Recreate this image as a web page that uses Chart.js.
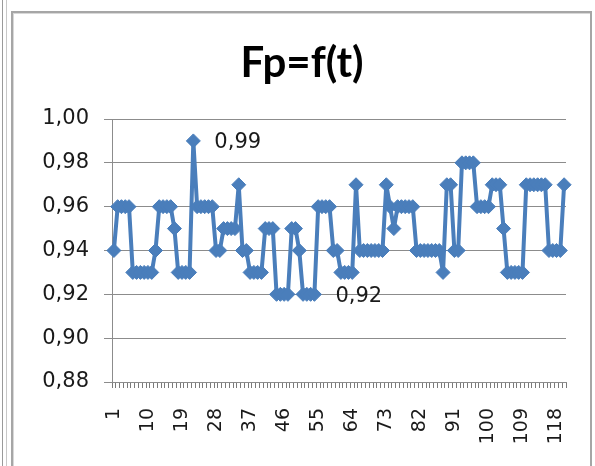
<!DOCTYPE html>
<html>
<head>
<meta charset="utf-8">
<script src="https://cdn.jsdelivr.net/npm/chart.js@4/dist/chart.umd.min.js"></script>
<style>
  html, body { margin: 0; padding: 0; background: #ffffff; }
  #wrap { position: relative; width: 595px; height: 466px; overflow: hidden; background: #ffffff; }
  .edge { position: absolute; top: 0; left: 2px; width: 3px; height: 466px;
          border-left: 1px solid #9a9a9a; border-right: 1px solid #c8c8c8; }
  .frame { position: absolute; left: 11px; top: 11px; width: 577px; height: 470px;
           border: 2px solid #a6a6a6; box-shadow: inset 1px 1px 0 #d8d8d8; }
  canvas { position: absolute; left: 0; top: 0; }
</style>
</head>
<body>
<div id="wrap">
  <div class="edge"></div>
  <div class="frame"></div>
  <canvas id="c" width="595" height="466"></canvas>
</div>
<script>
// Measurement index (1..120) along the time axis
const categories = Array.from({ length: 120 }, (_, i) => String(i + 1));

// Axis labels printed under the time axis
const shownTicks = ['1', '10', '19', '28', '37', '46', '55', '64', '73', '82', '91', '100', '109', '118'];

// Power factor readings Fp
const fp = [
  0.94,
  0.96, 0.96, 0.96, 0.96,
  0.93, 0.93, 0.93, 0.93, 0.93, 0.93,
  0.94,
  0.96, 0.96, 0.96, 0.96,
  0.95,
  0.93, 0.93, 0.93, 0.93,
  0.99,
  0.96, 0.96, 0.96, 0.96, 0.96,
  0.94, 0.94,
  0.95, 0.95, 0.95, 0.95,
  0.97,
  0.94, 0.94,
  0.93, 0.93, 0.93, 0.93,
  0.95, 0.95, 0.95,
  0.92, 0.92, 0.92, 0.92,
  0.95, 0.95,
  0.94,
  0.92, 0.92, 0.92, 0.92,
  0.96, 0.96, 0.96, 0.96,
  0.94, 0.94,
  0.93, 0.93, 0.93, 0.93,
  0.97,
  0.94, 0.94, 0.94, 0.94, 0.94, 0.94, 0.94,
  0.97,
  0.96,
  0.95,
  0.96, 0.96, 0.96, 0.96, 0.96,
  0.94, 0.94, 0.94, 0.94, 0.94, 0.94, 0.94,
  0.93,
  0.97, 0.97,
  0.94, 0.94,
  0.98, 0.98, 0.98, 0.98,
  0.96, 0.96, 0.96, 0.96,
  0.97, 0.97, 0.97,
  0.95,
  0.93, 0.93, 0.93, 0.93, 0.93,
  0.97, 0.97, 0.97, 0.97, 0.97, 0.97,
  0.94, 0.94, 0.94, 0.94,
  0.97
];

// Points that carry a value label (maximum and minimum)
const labelledPoints = [21, 53];

const blue = '#4A7EBB';
const gridGray = '#8c8c8c';

const fmt = v => Number(v).toFixed(2).replace('.', ',');

const titlePlugin = {
  id: 'chartTitle',
  afterDraw(chart) {
    const ctx = chart.ctx;
    ctx.save();
    ctx.fillStyle = '#000000';
    ctx.font = 'bold 42px Lato';
    ctx.textAlign = 'center';
    ctx.textBaseline = 'alphabetic';
    ctx.fillText('Fp=f(t)', 302, 77);
    ctx.restore();
  }
};

const valueLabels = {
  id: 'valueLabels',
  afterDatasetsDraw(chart) {
    const ctx = chart.ctx;
    const meta = chart.getDatasetMeta(0);
    ctx.save();
    ctx.fillStyle = '#1a1a1a';
    ctx.font = '21px "DejaVu Sans"';
    ctx.textAlign = 'left';
    ctx.textBaseline = 'middle';
    labelledPoints.forEach(i => {
      const p = meta.data[i];
      ctx.fillText(fmt(fp[i]), p.x + 21, p.y + 2);
    });
    ctx.restore();
  }
};

new Chart(document.getElementById('c'), {
  type: 'line',
  data: {
    labels: categories,
    datasets: [{
      data: fp,
      borderColor: blue,
      backgroundColor: blue,
      borderWidth: 4,
      borderJoinStyle: 'round',
      tension: 0,
      pointStyle: 'rectRot',
      pointRadius: 7,
      pointBackgroundColor: blue,
      pointBorderColor: blue,
      pointBorderWidth: 1
    }]
  },
  options: {
    responsive: false,
    animation: false,
    devicePixelRatio: 1,
    layout: { padding: { top: 119, right: 29, bottom: 0, left: 0 } },
    plugins: {
      legend: { display: false },
      tooltip: { enabled: false },
      title: { display: false }
    },
    scales: {
      x: {
        offset: true,
        grid: { drawOnChartArea: false, drawTicks: true, tickLength: 6, color: '#7a7a7a', offset: true },
        border: { color: gridGray },
        ticks: {
          autoSkip: false,
          maxRotation: 90,
          minRotation: 90,
          padding: 20,
          color: '#1a1a1a',
          font: { family: 'DejaVu Sans', size: 19 },
          callback(value) {
            const l = this.getLabelForValue(value);
            return shownTicks.includes(l) ? l : '';
          }
        },
        afterFit(scale) {
          scale.height = 84;
          scale.paddingLeft = 0;
          scale.paddingRight = 0;
        }
      },
      y: {
        min: 0.88,
        max: 1.0,
        grid: { color: gridGray, tickLength: 8 },
        border: { color: gridGray },
        ticks: {
          stepSize: 0.02,
          padding: 15,
          color: '#1a1a1a',
          font: { family: 'DejaVu Sans', size: 21 },
          callback: v => fmt(v)
        },
        afterFit(scale) { scale.width = 112; }
      }
    }
  },
  plugins: [titlePlugin, valueLabels]
});
</script>
</body>
</html>
